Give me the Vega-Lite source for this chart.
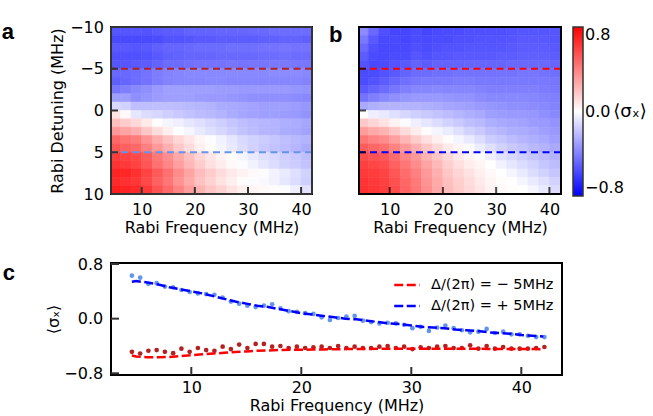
{
"$schema":"https://vega.github.io/schema/vega-lite/v6.json",
"padding":{"left":0,"top":18,"right":0,"bottom":0},
"background":"white",
"config":{
"font":"DejaVu Sans",
"view":{"stroke":"black","strokeWidth":2},
"axis":{"labelFont":"DejaVu Sans","titleFont":"DejaVu Sans","labelFontSize":16,"titleFontSize":16,"titleFontWeight":"normal","labelColor":"black","titleColor":"black","ticks":false,"domain":false,"grid":false,"zindex":1},
"legend":{"labelFont":"DejaVu Sans","titleFont":"DejaVu Sans"},
"title":{"font":"Liberation Sans","fontSize":22,"fontWeight":"bold","anchor":"start","frame":"group","baseline":"alphabetic","offset":0,"color":"black"}
},
"datasets":{
"heatA":[
{"freq":5,"det":-9.5,"sx":-0.53},{"freq":5,"det":-8.5,"sx":-0.57},{"freq":5,"det":-7.5,"sx":-0.52},{"freq":5,"det":-6.5,"sx":-0.55},{"freq":5,"det":-5.5,"sx":-0.53},{"freq":5,"det":-4.5,"sx":-0.47},{"freq":5,"det":-3.5,"sx":-0.5},{"freq":5,"det":-2.5,"sx":-0.43},{"freq":5,"det":-1.5,"sx":-0.3},{"freq":5,"det":-0.5,"sx":-0.12},{"freq":5,"det":0.5,"sx":0.08},{"freq":5,"det":1.5,"sx":0.2},{"freq":5,"det":2.5,"sx":0.32},{"freq":5,"det":3.5,"sx":0.48},{"freq":5,"det":4.5,"sx":0.53},{"freq":5,"det":5.5,"sx":0.61},{"freq":5,"det":6.5,"sx":0.64},{"freq":5,"det":7.5,"sx":0.69},{"freq":5,"det":8.5,"sx":0.67},{"freq":5,"det":9.5,"sx":0.71},
{"freq":7,"det":-9.5,"sx":-0.53},{"freq":7,"det":-8.5,"sx":-0.57},{"freq":7,"det":-7.5,"sx":-0.52},{"freq":7,"det":-6.5,"sx":-0.55},{"freq":7,"det":-5.5,"sx":-0.53},{"freq":7,"det":-4.5,"sx":-0.47},{"freq":7,"det":-3.5,"sx":-0.48},{"freq":7,"det":-2.5,"sx":-0.4},{"freq":7,"det":-1.5,"sx":-0.3},{"freq":7,"det":-0.5,"sx":-0.14},{"freq":7,"det":0.5,"sx":0.02},{"freq":7,"det":1.5,"sx":0.16},{"freq":7,"det":2.5,"sx":0.29},{"freq":7,"det":3.5,"sx":0.44},{"freq":7,"det":4.5,"sx":0.5},{"freq":7,"det":5.5,"sx":0.59},{"freq":7,"det":6.5,"sx":0.62},{"freq":7,"det":7.5,"sx":0.68},{"freq":7,"det":8.5,"sx":0.65},{"freq":7,"det":9.5,"sx":0.69},
{"freq":9,"det":-9.5,"sx":-0.53},{"freq":9,"det":-8.5,"sx":-0.57},{"freq":9,"det":-7.5,"sx":-0.53},{"freq":9,"det":-6.5,"sx":-0.55},{"freq":9,"det":-5.5,"sx":-0.52},{"freq":9,"det":-4.5,"sx":-0.46},{"freq":9,"det":-3.5,"sx":-0.46},{"freq":9,"det":-2.5,"sx":-0.37},{"freq":9,"det":-1.5,"sx":-0.35},{"freq":9,"det":-0.5,"sx":-0.2},{"freq":9,"det":0.5,"sx":-0.08},{"freq":9,"det":1.5,"sx":0.12},{"freq":9,"det":2.5,"sx":0.25},{"freq":9,"det":3.5,"sx":0.41},{"freq":9,"det":4.5,"sx":0.47},{"freq":9,"det":5.5,"sx":0.57},{"freq":9,"det":6.5,"sx":0.59},{"freq":9,"det":7.5,"sx":0.65},{"freq":9,"det":8.5,"sx":0.63},{"freq":9,"det":9.5,"sx":0.67},
{"freq":11,"det":-9.5,"sx":-0.54},{"freq":11,"det":-8.5,"sx":-0.57},{"freq":11,"det":-7.5,"sx":-0.52},{"freq":11,"det":-6.5,"sx":-0.54},{"freq":11,"det":-5.5,"sx":-0.51},{"freq":11,"det":-4.5,"sx":-0.44},{"freq":11,"det":-3.5,"sx":-0.44},{"freq":11,"det":-2.5,"sx":-0.35},{"freq":11,"det":-1.5,"sx":-0.33},{"freq":11,"det":-0.5,"sx":-0.2},{"freq":11,"det":0.5,"sx":-0.11},{"freq":11,"det":1.5,"sx":0.07},{"freq":11,"det":2.5,"sx":0.18},{"freq":11,"det":3.5,"sx":0.34},{"freq":11,"det":4.5,"sx":0.4},{"freq":11,"det":5.5,"sx":0.51},{"freq":11,"det":6.5,"sx":0.53},{"freq":11,"det":7.5,"sx":0.59},{"freq":11,"det":8.5,"sx":0.57},{"freq":11,"det":9.5,"sx":0.62},
{"freq":13,"det":-9.5,"sx":-0.52},{"freq":13,"det":-8.5,"sx":-0.56},{"freq":13,"det":-7.5,"sx":-0.5},{"freq":13,"det":-6.5,"sx":-0.52},{"freq":13,"det":-5.5,"sx":-0.49},{"freq":13,"det":-4.5,"sx":-0.41},{"freq":13,"det":-3.5,"sx":-0.41},{"freq":13,"det":-2.5,"sx":-0.32},{"freq":13,"det":-1.5,"sx":-0.31},{"freq":13,"det":-0.5,"sx":-0.2},{"freq":13,"det":0.5,"sx":-0.13},{"freq":13,"det":1.5,"sx":0.01},{"freq":13,"det":2.5,"sx":0.11},{"freq":13,"det":3.5,"sx":0.26},{"freq":13,"det":4.5,"sx":0.32},{"freq":13,"det":5.5,"sx":0.42},{"freq":13,"det":6.5,"sx":0.45},{"freq":13,"det":7.5,"sx":0.52},{"freq":13,"det":8.5,"sx":0.5},{"freq":13,"det":9.5,"sx":0.54},
{"freq":15,"det":-9.5,"sx":-0.51},{"freq":15,"det":-8.5,"sx":-0.54},{"freq":15,"det":-7.5,"sx":-0.48},{"freq":15,"det":-6.5,"sx":-0.5},{"freq":15,"det":-5.5,"sx":-0.46},{"freq":15,"det":-4.5,"sx":-0.39},{"freq":15,"det":-3.5,"sx":-0.39},{"freq":15,"det":-2.5,"sx":-0.3},{"freq":15,"det":-1.5,"sx":-0.3},{"freq":15,"det":-0.5,"sx":-0.2},{"freq":15,"det":0.5,"sx":-0.15},{"freq":15,"det":1.5,"sx":-0.03},{"freq":15,"det":2.5,"sx":0.05},{"freq":15,"det":3.5,"sx":0.19},{"freq":15,"det":4.5,"sx":0.25},{"freq":15,"det":5.5,"sx":0.35},{"freq":15,"det":6.5,"sx":0.38},{"freq":15,"det":7.5,"sx":0.45},{"freq":15,"det":8.5,"sx":0.43},{"freq":15,"det":9.5,"sx":0.47},
{"freq":17,"det":-9.5,"sx":-0.51},{"freq":17,"det":-8.5,"sx":-0.54},{"freq":17,"det":-7.5,"sx":-0.48},{"freq":17,"det":-6.5,"sx":-0.49},{"freq":17,"det":-5.5,"sx":-0.46},{"freq":17,"det":-4.5,"sx":-0.38},{"freq":17,"det":-3.5,"sx":-0.38},{"freq":17,"det":-2.5,"sx":-0.3},{"freq":17,"det":-1.5,"sx":-0.3},{"freq":17,"det":-0.5,"sx":-0.21},{"freq":17,"det":0.5,"sx":-0.17},{"freq":17,"det":1.5,"sx":-0.05},{"freq":17,"det":2.5,"sx":0.0},{"freq":17,"det":3.5,"sx":0.13},{"freq":17,"det":4.5,"sx":0.17},{"freq":17,"det":5.5,"sx":0.27},{"freq":17,"det":6.5,"sx":0.3},{"freq":17,"det":7.5,"sx":0.36},{"freq":17,"det":8.5,"sx":0.34},{"freq":17,"det":9.5,"sx":0.39},
{"freq":19,"det":-9.5,"sx":-0.49},{"freq":19,"det":-8.5,"sx":-0.53},{"freq":19,"det":-7.5,"sx":-0.47},{"freq":19,"det":-6.5,"sx":-0.48},{"freq":19,"det":-5.5,"sx":-0.45},{"freq":19,"det":-4.5,"sx":-0.37},{"freq":19,"det":-3.5,"sx":-0.38},{"freq":19,"det":-2.5,"sx":-0.3},{"freq":19,"det":-1.5,"sx":-0.3},{"freq":19,"det":-0.5,"sx":-0.22},{"freq":19,"det":0.5,"sx":-0.19},{"freq":19,"det":1.5,"sx":-0.08},{"freq":19,"det":2.5,"sx":-0.03},{"freq":19,"det":3.5,"sx":0.08},{"freq":19,"det":4.5,"sx":0.11},{"freq":19,"det":5.5,"sx":0.2},{"freq":19,"det":6.5,"sx":0.23},{"freq":19,"det":7.5,"sx":0.29},{"freq":19,"det":8.5,"sx":0.27},{"freq":19,"det":9.5,"sx":0.31},
{"freq":21,"det":-9.5,"sx":-0.49},{"freq":21,"det":-8.5,"sx":-0.52},{"freq":21,"det":-7.5,"sx":-0.46},{"freq":21,"det":-6.5,"sx":-0.48},{"freq":21,"det":-5.5,"sx":-0.44},{"freq":21,"det":-4.5,"sx":-0.37},{"freq":21,"det":-3.5,"sx":-0.38},{"freq":21,"det":-2.5,"sx":-0.3},{"freq":21,"det":-1.5,"sx":-0.31},{"freq":21,"det":-0.5,"sx":-0.23},{"freq":21,"det":0.5,"sx":-0.21},{"freq":21,"det":1.5,"sx":-0.1},{"freq":21,"det":2.5,"sx":-0.07},{"freq":21,"det":3.5,"sx":0.03},{"freq":21,"det":4.5,"sx":0.05},{"freq":21,"det":5.5,"sx":0.13},{"freq":21,"det":6.5,"sx":0.16},{"freq":21,"det":7.5,"sx":0.21},{"freq":21,"det":8.5,"sx":0.19},{"freq":21,"det":9.5,"sx":0.24},
{"freq":23,"det":-9.5,"sx":-0.49},{"freq":23,"det":-8.5,"sx":-0.52},{"freq":23,"det":-7.5,"sx":-0.46},{"freq":23,"det":-6.5,"sx":-0.48},{"freq":23,"det":-5.5,"sx":-0.44},{"freq":23,"det":-4.5,"sx":-0.37},{"freq":23,"det":-3.5,"sx":-0.37},{"freq":23,"det":-2.5,"sx":-0.3},{"freq":23,"det":-1.5,"sx":-0.32},{"freq":23,"det":-0.5,"sx":-0.24},{"freq":23,"det":0.5,"sx":-0.22},{"freq":23,"det":1.5,"sx":-0.13},{"freq":23,"det":2.5,"sx":-0.1},{"freq":23,"det":3.5,"sx":-0.01},{"freq":23,"det":4.5,"sx":0.01},{"freq":23,"det":5.5,"sx":0.08},{"freq":23,"det":6.5,"sx":0.1},{"freq":23,"det":7.5,"sx":0.16},{"freq":23,"det":8.5,"sx":0.14},{"freq":23,"det":9.5,"sx":0.18},
{"freq":25,"det":-9.5,"sx":-0.48},{"freq":25,"det":-8.5,"sx":-0.51},{"freq":25,"det":-7.5,"sx":-0.46},{"freq":25,"det":-6.5,"sx":-0.47},{"freq":25,"det":-5.5,"sx":-0.44},{"freq":25,"det":-4.5,"sx":-0.37},{"freq":25,"det":-3.5,"sx":-0.37},{"freq":25,"det":-2.5,"sx":-0.31},{"freq":25,"det":-1.5,"sx":-0.32},{"freq":25,"det":-0.5,"sx":-0.26},{"freq":25,"det":0.5,"sx":-0.24},{"freq":25,"det":1.5,"sx":-0.15},{"freq":25,"det":2.5,"sx":-0.13},{"freq":25,"det":3.5,"sx":-0.04},{"freq":25,"det":4.5,"sx":-0.03},{"freq":25,"det":5.5,"sx":0.04},{"freq":25,"det":6.5,"sx":0.06},{"freq":25,"det":7.5,"sx":0.11},{"freq":25,"det":8.5,"sx":0.09},{"freq":25,"det":9.5,"sx":0.14},
{"freq":27,"det":-9.5,"sx":-0.48},{"freq":27,"det":-8.5,"sx":-0.51},{"freq":27,"det":-7.5,"sx":-0.45},{"freq":27,"det":-6.5,"sx":-0.47},{"freq":27,"det":-5.5,"sx":-0.43},{"freq":27,"det":-4.5,"sx":-0.37},{"freq":27,"det":-3.5,"sx":-0.38},{"freq":27,"det":-2.5,"sx":-0.31},{"freq":27,"det":-1.5,"sx":-0.33},{"freq":27,"det":-0.5,"sx":-0.27},{"freq":27,"det":0.5,"sx":-0.26},{"freq":27,"det":1.5,"sx":-0.18},{"freq":27,"det":2.5,"sx":-0.16},{"freq":27,"det":3.5,"sx":-0.08},{"freq":27,"det":4.5,"sx":-0.07},{"freq":27,"det":5.5,"sx":0.01},{"freq":27,"det":6.5,"sx":0.02},{"freq":27,"det":7.5,"sx":0.07},{"freq":27,"det":8.5,"sx":0.05},{"freq":27,"det":9.5,"sx":0.09},
{"freq":29,"det":-9.5,"sx":-0.48},{"freq":29,"det":-8.5,"sx":-0.51},{"freq":29,"det":-7.5,"sx":-0.45},{"freq":29,"det":-6.5,"sx":-0.47},{"freq":29,"det":-5.5,"sx":-0.44},{"freq":29,"det":-4.5,"sx":-0.37},{"freq":29,"det":-3.5,"sx":-0.38},{"freq":29,"det":-2.5,"sx":-0.32},{"freq":29,"det":-1.5,"sx":-0.34},{"freq":29,"det":-0.5,"sx":-0.28},{"freq":29,"det":0.5,"sx":-0.28},{"freq":29,"det":1.5,"sx":-0.2},{"freq":29,"det":2.5,"sx":-0.19},{"freq":29,"det":3.5,"sx":-0.12},{"freq":29,"det":4.5,"sx":-0.11},{"freq":29,"det":5.5,"sx":-0.03},{"freq":29,"det":6.5,"sx":-0.01},{"freq":29,"det":7.5,"sx":0.04},{"freq":29,"det":8.5,"sx":0.01},{"freq":29,"det":9.5,"sx":0.05},
{"freq":31,"det":-9.5,"sx":-0.47},{"freq":31,"det":-8.5,"sx":-0.51},{"freq":31,"det":-7.5,"sx":-0.45},{"freq":31,"det":-6.5,"sx":-0.47},{"freq":31,"det":-5.5,"sx":-0.43},{"freq":31,"det":-4.5,"sx":-0.37},{"freq":31,"det":-3.5,"sx":-0.38},{"freq":31,"det":-2.5,"sx":-0.32},{"freq":31,"det":-1.5,"sx":-0.35},{"freq":31,"det":-0.5,"sx":-0.29},{"freq":31,"det":0.5,"sx":-0.29},{"freq":31,"det":1.5,"sx":-0.22},{"freq":31,"det":2.5,"sx":-0.21},{"freq":31,"det":3.5,"sx":-0.14},{"freq":31,"det":4.5,"sx":-0.14},{"freq":31,"det":5.5,"sx":-0.07},{"freq":31,"det":6.5,"sx":-0.04},{"freq":31,"det":7.5,"sx":0.02},{"freq":31,"det":8.5,"sx":-0.01},{"freq":31,"det":9.5,"sx":0.03},
{"freq":33,"det":-9.5,"sx":-0.47},{"freq":33,"det":-8.5,"sx":-0.5},{"freq":33,"det":-7.5,"sx":-0.44},{"freq":33,"det":-6.5,"sx":-0.46},{"freq":33,"det":-5.5,"sx":-0.43},{"freq":33,"det":-4.5,"sx":-0.37},{"freq":33,"det":-3.5,"sx":-0.38},{"freq":33,"det":-2.5,"sx":-0.32},{"freq":33,"det":-1.5,"sx":-0.35},{"freq":33,"det":-0.5,"sx":-0.3},{"freq":33,"det":0.5,"sx":-0.3},{"freq":33,"det":1.5,"sx":-0.23},{"freq":33,"det":2.5,"sx":-0.23},{"freq":33,"det":3.5,"sx":-0.16},{"freq":33,"det":4.5,"sx":-0.17},{"freq":33,"det":5.5,"sx":-0.1},{"freq":33,"det":6.5,"sx":-0.08},{"freq":33,"det":7.5,"sx":-0.01},{"freq":33,"det":8.5,"sx":-0.02},{"freq":33,"det":9.5,"sx":0.02},
{"freq":35,"det":-9.5,"sx":-0.46},{"freq":35,"det":-8.5,"sx":-0.5},{"freq":35,"det":-7.5,"sx":-0.44},{"freq":35,"det":-6.5,"sx":-0.46},{"freq":35,"det":-5.5,"sx":-0.42},{"freq":35,"det":-4.5,"sx":-0.36},{"freq":35,"det":-3.5,"sx":-0.38},{"freq":35,"det":-2.5,"sx":-0.32},{"freq":35,"det":-1.5,"sx":-0.35},{"freq":35,"det":-0.5,"sx":-0.3},{"freq":35,"det":0.5,"sx":-0.3},{"freq":35,"det":1.5,"sx":-0.24},{"freq":35,"det":2.5,"sx":-0.24},{"freq":35,"det":3.5,"sx":-0.18},{"freq":35,"det":4.5,"sx":-0.19},{"freq":35,"det":5.5,"sx":-0.12},{"freq":35,"det":6.5,"sx":-0.11},{"freq":35,"det":7.5,"sx":-0.04},{"freq":35,"det":8.5,"sx":-0.04},{"freq":35,"det":9.5,"sx":0.01},
{"freq":37,"det":-9.5,"sx":-0.46},{"freq":37,"det":-8.5,"sx":-0.49},{"freq":37,"det":-7.5,"sx":-0.43},{"freq":37,"det":-6.5,"sx":-0.45},{"freq":37,"det":-5.5,"sx":-0.42},{"freq":37,"det":-4.5,"sx":-0.36},{"freq":37,"det":-3.5,"sx":-0.38},{"freq":37,"det":-2.5,"sx":-0.32},{"freq":37,"det":-1.5,"sx":-0.35},{"freq":37,"det":-0.5,"sx":-0.3},{"freq":37,"det":0.5,"sx":-0.31},{"freq":37,"det":1.5,"sx":-0.25},{"freq":37,"det":2.5,"sx":-0.26},{"freq":37,"det":3.5,"sx":-0.2},{"freq":37,"det":4.5,"sx":-0.21},{"freq":37,"det":5.5,"sx":-0.15},{"freq":37,"det":6.5,"sx":-0.14},{"freq":37,"det":7.5,"sx":-0.07},{"freq":37,"det":8.5,"sx":-0.08},{"freq":37,"det":9.5,"sx":-0.01},
{"freq":39,"det":-9.5,"sx":-0.46},{"freq":39,"det":-8.5,"sx":-0.49},{"freq":39,"det":-7.5,"sx":-0.44},{"freq":39,"det":-6.5,"sx":-0.46},{"freq":39,"det":-5.5,"sx":-0.43},{"freq":39,"det":-4.5,"sx":-0.36},{"freq":39,"det":-3.5,"sx":-0.38},{"freq":39,"det":-2.5,"sx":-0.33},{"freq":39,"det":-1.5,"sx":-0.36},{"freq":39,"det":-0.5,"sx":-0.31},{"freq":39,"det":0.5,"sx":-0.32},{"freq":39,"det":1.5,"sx":-0.26},{"freq":39,"det":2.5,"sx":-0.27},{"freq":39,"det":3.5,"sx":-0.22},{"freq":39,"det":4.5,"sx":-0.23},{"freq":39,"det":5.5,"sx":-0.17},{"freq":39,"det":6.5,"sx":-0.16},{"freq":39,"det":7.5,"sx":-0.1},{"freq":39,"det":8.5,"sx":-0.11},{"freq":39,"det":9.5,"sx":-0.05},
{"freq":41,"det":-9.5,"sx":-0.46},{"freq":41,"det":-8.5,"sx":-0.5},{"freq":41,"det":-7.5,"sx":-0.44},{"freq":41,"det":-6.5,"sx":-0.46},{"freq":41,"det":-5.5,"sx":-0.43},{"freq":41,"det":-4.5,"sx":-0.37},{"freq":41,"det":-3.5,"sx":-0.39},{"freq":41,"det":-2.5,"sx":-0.34},{"freq":41,"det":-1.5,"sx":-0.37},{"freq":41,"det":-0.5,"sx":-0.33},{"freq":41,"det":0.5,"sx":-0.34},{"freq":41,"det":1.5,"sx":-0.28},{"freq":41,"det":2.5,"sx":-0.29},{"freq":41,"det":3.5,"sx":-0.24},{"freq":41,"det":4.5,"sx":-0.26},{"freq":41,"det":5.5,"sx":-0.2},{"freq":41,"det":6.5,"sx":-0.19},{"freq":41,"det":7.5,"sx":-0.14},{"freq":41,"det":8.5,"sx":-0.15},{"freq":41,"det":9.5,"sx":-0.09}
],
"heatB":[
{"freq":5,"det":-9.5,"sx":-0.36},{"freq":5,"det":-8.5,"sx":-0.42},{"freq":5,"det":-7.5,"sx":-0.47},{"freq":5,"det":-6.5,"sx":-0.51},{"freq":5,"det":-5.5,"sx":-0.54},{"freq":5,"det":-4.5,"sx":-0.56},{"freq":5,"det":-3.5,"sx":-0.56},{"freq":5,"det":-2.5,"sx":-0.52},{"freq":5,"det":-1.5,"sx":-0.44},{"freq":5,"det":-0.5,"sx":-0.27},{"freq":5,"det":0.5,"sx":0.0},{"freq":5,"det":1.5,"sx":0.17},{"freq":5,"det":2.5,"sx":0.31},{"freq":5,"det":3.5,"sx":0.43},{"freq":5,"det":4.5,"sx":0.51},{"freq":5,"det":5.5,"sx":0.56},{"freq":5,"det":6.5,"sx":0.6},{"freq":5,"det":7.5,"sx":0.62},{"freq":5,"det":8.5,"sx":0.64},{"freq":5,"det":9.5,"sx":0.65},
{"freq":7,"det":-9.5,"sx":-0.47},{"freq":7,"det":-8.5,"sx":-0.52},{"freq":7,"det":-7.5,"sx":-0.55},{"freq":7,"det":-6.5,"sx":-0.56},{"freq":7,"det":-5.5,"sx":-0.57},{"freq":7,"det":-4.5,"sx":-0.56},{"freq":7,"det":-3.5,"sx":-0.54},{"freq":7,"det":-2.5,"sx":-0.49},{"freq":7,"det":-1.5,"sx":-0.4},{"freq":7,"det":-0.5,"sx":-0.25},{"freq":7,"det":0.5,"sx":-0.05},{"freq":7,"det":1.5,"sx":0.13},{"freq":7,"det":2.5,"sx":0.27},{"freq":7,"det":3.5,"sx":0.39},{"freq":7,"det":4.5,"sx":0.48},{"freq":7,"det":5.5,"sx":0.54},{"freq":7,"det":6.5,"sx":0.58},{"freq":7,"det":7.5,"sx":0.61},{"freq":7,"det":8.5,"sx":0.62},{"freq":7,"det":9.5,"sx":0.63},
{"freq":9,"det":-9.5,"sx":-0.55},{"freq":9,"det":-8.5,"sx":-0.57},{"freq":9,"det":-7.5,"sx":-0.57},{"freq":9,"det":-6.5,"sx":-0.57},{"freq":9,"det":-5.5,"sx":-0.56},{"freq":9,"det":-4.5,"sx":-0.54},{"freq":9,"det":-3.5,"sx":-0.51},{"freq":9,"det":-2.5,"sx":-0.46},{"freq":9,"det":-1.5,"sx":-0.37},{"freq":9,"det":-0.5,"sx":-0.24},{"freq":9,"det":0.5,"sx":-0.07},{"freq":9,"det":1.5,"sx":0.09},{"freq":9,"det":2.5,"sx":0.24},{"freq":9,"det":3.5,"sx":0.36},{"freq":9,"det":4.5,"sx":0.45},{"freq":9,"det":5.5,"sx":0.52},{"freq":9,"det":6.5,"sx":0.56},{"freq":9,"det":7.5,"sx":0.59},{"freq":9,"det":8.5,"sx":0.6},{"freq":9,"det":9.5,"sx":0.61},
{"freq":11,"det":-9.5,"sx":-0.58},{"freq":11,"det":-8.5,"sx":-0.57},{"freq":11,"det":-7.5,"sx":-0.57},{"freq":11,"det":-6.5,"sx":-0.56},{"freq":11,"det":-5.5,"sx":-0.54},{"freq":11,"det":-4.5,"sx":-0.52},{"freq":11,"det":-3.5,"sx":-0.48},{"freq":11,"det":-2.5,"sx":-0.43},{"freq":11,"det":-1.5,"sx":-0.35},{"freq":11,"det":-0.5,"sx":-0.24},{"freq":11,"det":0.5,"sx":-0.1},{"freq":11,"det":1.5,"sx":0.04},{"freq":11,"det":2.5,"sx":0.18},{"freq":11,"det":3.5,"sx":0.3},{"freq":11,"det":4.5,"sx":0.39},{"freq":11,"det":5.5,"sx":0.46},{"freq":11,"det":6.5,"sx":0.5},{"freq":11,"det":7.5,"sx":0.53},{"freq":11,"det":8.5,"sx":0.55},{"freq":11,"det":9.5,"sx":0.56},
{"freq":13,"det":-9.5,"sx":-0.58},{"freq":13,"det":-8.5,"sx":-0.58},{"freq":13,"det":-7.5,"sx":-0.57},{"freq":13,"det":-6.5,"sx":-0.56},{"freq":13,"det":-5.5,"sx":-0.52},{"freq":13,"det":-4.5,"sx":-0.49},{"freq":13,"det":-3.5,"sx":-0.45},{"freq":13,"det":-2.5,"sx":-0.4},{"freq":13,"det":-1.5,"sx":-0.33},{"freq":13,"det":-0.5,"sx":-0.24},{"freq":13,"det":0.5,"sx":-0.13},{"freq":13,"det":1.5,"sx":-0.01},{"freq":13,"det":2.5,"sx":0.11},{"freq":13,"det":3.5,"sx":0.23},{"freq":13,"det":4.5,"sx":0.32},{"freq":13,"det":5.5,"sx":0.38},{"freq":13,"det":6.5,"sx":0.43},{"freq":13,"det":7.5,"sx":0.46},{"freq":13,"det":8.5,"sx":0.48},{"freq":13,"det":9.5,"sx":0.49},
{"freq":15,"det":-9.5,"sx":-0.56},{"freq":15,"det":-8.5,"sx":-0.56},{"freq":15,"det":-7.5,"sx":-0.55},{"freq":15,"det":-6.5,"sx":-0.53},{"freq":15,"det":-5.5,"sx":-0.49},{"freq":15,"det":-4.5,"sx":-0.46},{"freq":15,"det":-3.5,"sx":-0.43},{"freq":15,"det":-2.5,"sx":-0.38},{"freq":15,"det":-1.5,"sx":-0.32},{"freq":15,"det":-0.5,"sx":-0.24},{"freq":15,"det":0.5,"sx":-0.15},{"freq":15,"det":1.5,"sx":-0.05},{"freq":15,"det":2.5,"sx":0.06},{"freq":15,"det":3.5,"sx":0.16},{"freq":15,"det":4.5,"sx":0.25},{"freq":15,"det":5.5,"sx":0.32},{"freq":15,"det":6.5,"sx":0.36},{"freq":15,"det":7.5,"sx":0.4},{"freq":15,"det":8.5,"sx":0.42},{"freq":15,"det":9.5,"sx":0.43},
{"freq":17,"det":-9.5,"sx":-0.58},{"freq":17,"det":-8.5,"sx":-0.57},{"freq":17,"det":-7.5,"sx":-0.56},{"freq":17,"det":-6.5,"sx":-0.55},{"freq":17,"det":-5.5,"sx":-0.51},{"freq":17,"det":-4.5,"sx":-0.46},{"freq":17,"det":-3.5,"sx":-0.42},{"freq":17,"det":-2.5,"sx":-0.38},{"freq":17,"det":-1.5,"sx":-0.32},{"freq":17,"det":-0.5,"sx":-0.25},{"freq":17,"det":0.5,"sx":-0.17},{"freq":17,"det":1.5,"sx":-0.08},{"freq":17,"det":2.5,"sx":0.01},{"freq":17,"det":3.5,"sx":0.1},{"freq":17,"det":4.5,"sx":0.18},{"freq":17,"det":5.5,"sx":0.24},{"freq":17,"det":6.5,"sx":0.29},{"freq":17,"det":7.5,"sx":0.32},{"freq":17,"det":8.5,"sx":0.34},{"freq":17,"det":9.5,"sx":0.35},
{"freq":19,"det":-9.5,"sx":-0.57},{"freq":19,"det":-8.5,"sx":-0.56},{"freq":19,"det":-7.5,"sx":-0.55},{"freq":19,"det":-6.5,"sx":-0.53},{"freq":19,"det":-5.5,"sx":-0.49},{"freq":19,"det":-4.5,"sx":-0.45},{"freq":19,"det":-3.5,"sx":-0.42},{"freq":19,"det":-2.5,"sx":-0.37},{"freq":19,"det":-1.5,"sx":-0.32},{"freq":19,"det":-0.5,"sx":-0.26},{"freq":19,"det":0.5,"sx":-0.19},{"freq":19,"det":1.5,"sx":-0.11},{"freq":19,"det":2.5,"sx":-0.03},{"freq":19,"det":3.5,"sx":0.05},{"freq":19,"det":4.5,"sx":0.12},{"freq":19,"det":5.5,"sx":0.18},{"freq":19,"det":6.5,"sx":0.22},{"freq":19,"det":7.5,"sx":0.25},{"freq":19,"det":8.5,"sx":0.27},{"freq":19,"det":9.5,"sx":0.28},
{"freq":21,"det":-9.5,"sx":-0.56},{"freq":21,"det":-8.5,"sx":-0.56},{"freq":21,"det":-7.5,"sx":-0.54},{"freq":21,"det":-6.5,"sx":-0.53},{"freq":21,"det":-5.5,"sx":-0.49},{"freq":21,"det":-4.5,"sx":-0.45},{"freq":21,"det":-3.5,"sx":-0.42},{"freq":21,"det":-2.5,"sx":-0.38},{"freq":21,"det":-1.5,"sx":-0.33},{"freq":21,"det":-0.5,"sx":-0.28},{"freq":21,"det":0.5,"sx":-0.21},{"freq":21,"det":1.5,"sx":-0.14},{"freq":21,"det":2.5,"sx":-0.06},{"freq":21,"det":3.5,"sx":0.01},{"freq":21,"det":4.5,"sx":0.07},{"freq":21,"det":5.5,"sx":0.12},{"freq":21,"det":6.5,"sx":0.15},{"freq":21,"det":7.5,"sx":0.18},{"freq":21,"det":8.5,"sx":0.2},{"freq":21,"det":9.5,"sx":0.21},
{"freq":23,"det":-9.5,"sx":-0.56},{"freq":23,"det":-8.5,"sx":-0.55},{"freq":23,"det":-7.5,"sx":-0.54},{"freq":23,"det":-6.5,"sx":-0.52},{"freq":23,"det":-5.5,"sx":-0.49},{"freq":23,"det":-4.5,"sx":-0.44},{"freq":23,"det":-3.5,"sx":-0.41},{"freq":23,"det":-2.5,"sx":-0.38},{"freq":23,"det":-1.5,"sx":-0.34},{"freq":23,"det":-0.5,"sx":-0.29},{"freq":23,"det":0.5,"sx":-0.23},{"freq":23,"det":1.5,"sx":-0.17},{"freq":23,"det":2.5,"sx":-0.1},{"freq":23,"det":3.5,"sx":-0.03},{"freq":23,"det":4.5,"sx":0.03},{"freq":23,"det":5.5,"sx":0.07},{"freq":23,"det":6.5,"sx":0.1},{"freq":23,"det":7.5,"sx":0.13},{"freq":23,"det":8.5,"sx":0.15},{"freq":23,"det":9.5,"sx":0.16},
{"freq":25,"det":-9.5,"sx":-0.55},{"freq":25,"det":-8.5,"sx":-0.55},{"freq":25,"det":-7.5,"sx":-0.53},{"freq":25,"det":-6.5,"sx":-0.52},{"freq":25,"det":-5.5,"sx":-0.48},{"freq":25,"det":-4.5,"sx":-0.44},{"freq":25,"det":-3.5,"sx":-0.41},{"freq":25,"det":-2.5,"sx":-0.38},{"freq":25,"det":-1.5,"sx":-0.34},{"freq":25,"det":-0.5,"sx":-0.3},{"freq":25,"det":0.5,"sx":-0.25},{"freq":25,"det":1.5,"sx":-0.2},{"freq":25,"det":2.5,"sx":-0.14},{"freq":25,"det":3.5,"sx":-0.07},{"freq":25,"det":4.5,"sx":-0.01},{"freq":25,"det":5.5,"sx":0.03},{"freq":25,"det":6.5,"sx":0.06},{"freq":25,"det":7.5,"sx":0.09},{"freq":25,"det":8.5,"sx":0.11},{"freq":25,"det":9.5,"sx":0.12},
{"freq":27,"det":-9.5,"sx":-0.55},{"freq":27,"det":-8.5,"sx":-0.54},{"freq":27,"det":-7.5,"sx":-0.53},{"freq":27,"det":-6.5,"sx":-0.52},{"freq":27,"det":-5.5,"sx":-0.48},{"freq":27,"det":-4.5,"sx":-0.44},{"freq":27,"det":-3.5,"sx":-0.42},{"freq":27,"det":-2.5,"sx":-0.39},{"freq":27,"det":-1.5,"sx":-0.36},{"freq":27,"det":-0.5,"sx":-0.32},{"freq":27,"det":0.5,"sx":-0.27},{"freq":27,"det":1.5,"sx":-0.22},{"freq":27,"det":2.5,"sx":-0.17},{"freq":27,"det":3.5,"sx":-0.11},{"freq":27,"det":4.5,"sx":-0.06},{"freq":27,"det":5.5,"sx":0.0},{"freq":27,"det":6.5,"sx":0.03},{"freq":27,"det":7.5,"sx":0.05},{"freq":27,"det":8.5,"sx":0.07},{"freq":27,"det":9.5,"sx":0.08},
{"freq":29,"det":-9.5,"sx":-0.55},{"freq":29,"det":-8.5,"sx":-0.54},{"freq":29,"det":-7.5,"sx":-0.53},{"freq":29,"det":-6.5,"sx":-0.52},{"freq":29,"det":-5.5,"sx":-0.48},{"freq":29,"det":-4.5,"sx":-0.44},{"freq":29,"det":-3.5,"sx":-0.42},{"freq":29,"det":-2.5,"sx":-0.4},{"freq":29,"det":-1.5,"sx":-0.37},{"freq":29,"det":-0.5,"sx":-0.33},{"freq":29,"det":0.5,"sx":-0.3},{"freq":29,"det":1.5,"sx":-0.25},{"freq":29,"det":2.5,"sx":-0.21},{"freq":29,"det":3.5,"sx":-0.16},{"freq":29,"det":4.5,"sx":-0.1},{"freq":29,"det":5.5,"sx":-0.05},{"freq":29,"det":6.5,"sx":0.0},{"freq":29,"det":7.5,"sx":0.02},{"freq":29,"det":8.5,"sx":0.03},{"freq":29,"det":9.5,"sx":0.04},
{"freq":31,"det":-9.5,"sx":-0.55},{"freq":31,"det":-8.5,"sx":-0.54},{"freq":31,"det":-7.5,"sx":-0.53},{"freq":31,"det":-6.5,"sx":-0.51},{"freq":31,"det":-5.5,"sx":-0.48},{"freq":31,"det":-4.5,"sx":-0.44},{"freq":31,"det":-3.5,"sx":-0.42},{"freq":31,"det":-2.5,"sx":-0.4},{"freq":31,"det":-1.5,"sx":-0.37},{"freq":31,"det":-0.5,"sx":-0.34},{"freq":31,"det":0.5,"sx":-0.31},{"freq":31,"det":1.5,"sx":-0.27},{"freq":31,"det":2.5,"sx":-0.23},{"freq":31,"det":3.5,"sx":-0.18},{"freq":31,"det":4.5,"sx":-0.14},{"freq":31,"det":5.5,"sx":-0.09},{"freq":31,"det":6.5,"sx":-0.04},{"freq":31,"det":7.5,"sx":0.0},{"freq":31,"det":8.5,"sx":0.01},{"freq":31,"det":9.5,"sx":0.02},
{"freq":33,"det":-9.5,"sx":-0.54},{"freq":33,"det":-8.5,"sx":-0.53},{"freq":33,"det":-7.5,"sx":-0.52},{"freq":33,"det":-6.5,"sx":-0.51},{"freq":33,"det":-5.5,"sx":-0.47},{"freq":33,"det":-4.5,"sx":-0.44},{"freq":33,"det":-3.5,"sx":-0.42},{"freq":33,"det":-2.5,"sx":-0.4},{"freq":33,"det":-1.5,"sx":-0.37},{"freq":33,"det":-0.5,"sx":-0.35},{"freq":33,"det":0.5,"sx":-0.32},{"freq":33,"det":1.5,"sx":-0.28},{"freq":33,"det":2.5,"sx":-0.25},{"freq":33,"det":3.5,"sx":-0.21},{"freq":33,"det":4.5,"sx":-0.17},{"freq":33,"det":5.5,"sx":-0.12},{"freq":33,"det":6.5,"sx":-0.08},{"freq":33,"det":7.5,"sx":-0.03},{"freq":33,"det":8.5,"sx":0.0},{"freq":33,"det":9.5,"sx":0.01},
{"freq":35,"det":-9.5,"sx":-0.53},{"freq":35,"det":-8.5,"sx":-0.52},{"freq":35,"det":-7.5,"sx":-0.51},{"freq":35,"det":-6.5,"sx":-0.5},{"freq":35,"det":-5.5,"sx":-0.47},{"freq":35,"det":-4.5,"sx":-0.43},{"freq":35,"det":-3.5,"sx":-0.42},{"freq":35,"det":-2.5,"sx":-0.4},{"freq":35,"det":-1.5,"sx":-0.37},{"freq":35,"det":-0.5,"sx":-0.35},{"freq":35,"det":0.5,"sx":-0.32},{"freq":35,"det":1.5,"sx":-0.29},{"freq":35,"det":2.5,"sx":-0.26},{"freq":35,"det":3.5,"sx":-0.23},{"freq":35,"det":4.5,"sx":-0.19},{"freq":35,"det":5.5,"sx":-0.15},{"freq":35,"det":6.5,"sx":-0.11},{"freq":35,"det":7.5,"sx":-0.07},{"freq":35,"det":8.5,"sx":-0.03},{"freq":35,"det":9.5,"sx":0.0},
{"freq":37,"det":-9.5,"sx":-0.53},{"freq":37,"det":-8.5,"sx":-0.52},{"freq":37,"det":-7.5,"sx":-0.51},{"freq":37,"det":-6.5,"sx":-0.5},{"freq":37,"det":-5.5,"sx":-0.47},{"freq":37,"det":-4.5,"sx":-0.43},{"freq":37,"det":-3.5,"sx":-0.42},{"freq":37,"det":-2.5,"sx":-0.4},{"freq":37,"det":-1.5,"sx":-0.38},{"freq":37,"det":-0.5,"sx":-0.36},{"freq":37,"det":0.5,"sx":-0.33},{"freq":37,"det":1.5,"sx":-0.31},{"freq":37,"det":2.5,"sx":-0.28},{"freq":37,"det":3.5,"sx":-0.25},{"freq":37,"det":4.5,"sx":-0.22},{"freq":37,"det":5.5,"sx":-0.18},{"freq":37,"det":6.5,"sx":-0.14},{"freq":37,"det":7.5,"sx":-0.11},{"freq":37,"det":8.5,"sx":-0.07},{"freq":37,"det":9.5,"sx":-0.03},
{"freq":39,"det":-9.5,"sx":-0.53},{"freq":39,"det":-8.5,"sx":-0.52},{"freq":39,"det":-7.5,"sx":-0.51},{"freq":39,"det":-6.5,"sx":-0.5},{"freq":39,"det":-5.5,"sx":-0.47},{"freq":39,"det":-4.5,"sx":-0.44},{"freq":39,"det":-3.5,"sx":-0.42},{"freq":39,"det":-2.5,"sx":-0.41},{"freq":39,"det":-1.5,"sx":-0.39},{"freq":39,"det":-0.5,"sx":-0.37},{"freq":39,"det":0.5,"sx":-0.35},{"freq":39,"det":1.5,"sx":-0.32},{"freq":39,"det":2.5,"sx":-0.3},{"freq":39,"det":3.5,"sx":-0.27},{"freq":39,"det":4.5,"sx":-0.24},{"freq":39,"det":5.5,"sx":-0.21},{"freq":39,"det":6.5,"sx":-0.18},{"freq":39,"det":7.5,"sx":-0.14},{"freq":39,"det":8.5,"sx":-0.1},{"freq":39,"det":9.5,"sx":-0.07},
{"freq":41,"det":-9.5,"sx":-0.53},{"freq":41,"det":-8.5,"sx":-0.53},{"freq":41,"det":-7.5,"sx":-0.52},{"freq":41,"det":-6.5,"sx":-0.51},{"freq":41,"det":-5.5,"sx":-0.48},{"freq":41,"det":-4.5,"sx":-0.45},{"freq":41,"det":-3.5,"sx":-0.43},{"freq":41,"det":-2.5,"sx":-0.42},{"freq":41,"det":-1.5,"sx":-0.4},{"freq":41,"det":-0.5,"sx":-0.39},{"freq":41,"det":0.5,"sx":-0.37},{"freq":41,"det":1.5,"sx":-0.34},{"freq":41,"det":2.5,"sx":-0.32},{"freq":41,"det":3.5,"sx":-0.3},{"freq":41,"det":4.5,"sx":-0.27},{"freq":41,"det":5.5,"sx":-0.24},{"freq":41,"det":6.5,"sx":-0.21},{"freq":41,"det":7.5,"sx":-0.18},{"freq":41,"det":8.5,"sx":-0.14},{"freq":41,"det":9.5,"sx":-0.11}
],
"points":[
{"freq":4.6,"series":"+5 MHz","sx":0.63},{"freq":5.35,"series":"+5 MHz","sx":0.6},{"freq":6.1,"series":"+5 MHz","sx":0.51},{"freq":6.85,"series":"+5 MHz","sx":0.52},{"freq":7.6,"series":"+5 MHz","sx":0.47},{"freq":8.35,"series":"+5 MHz","sx":0.46},{"freq":9.1,"series":"+5 MHz","sx":0.42},{"freq":9.85,"series":"+5 MHz","sx":0.39},{"freq":10.6,"series":"+5 MHz","sx":0.37},{"freq":11.35,"series":"+5 MHz","sx":0.36},{"freq":12.1,"series":"+5 MHz","sx":0.35},{"freq":12.85,"series":"+5 MHz","sx":0.31},{"freq":13.6,"series":"+5 MHz","sx":0.25},{"freq":14.35,"series":"+5 MHz","sx":0.22},{"freq":15.1,"series":"+5 MHz","sx":0.19},{"freq":15.85,"series":"+5 MHz","sx":0.17},{"freq":16.6,"series":"+5 MHz","sx":0.19},{"freq":17.35,"series":"+5 MHz","sx":0.21},{"freq":18.1,"series":"+5 MHz","sx":0.15},{"freq":18.85,"series":"+5 MHz","sx":0.11},{"freq":19.6,"series":"+5 MHz","sx":0.1},{"freq":20.35,"series":"+5 MHz","sx":0.08},{"freq":21.1,"series":"+5 MHz","sx":0.07},{"freq":21.85,"series":"+5 MHz","sx":0.02},{"freq":22.6,"series":"+5 MHz","sx":-0.02},{"freq":23.35,"series":"+5 MHz","sx":0.01},{"freq":24.1,"series":"+5 MHz","sx":0.03},{"freq":24.85,"series":"+5 MHz","sx":0.04},{"freq":25.6,"series":"+5 MHz","sx":-0.03},{"freq":26.35,"series":"+5 MHz","sx":-0.05},{"freq":27.1,"series":"+5 MHz","sx":-0.07},{"freq":27.85,"series":"+5 MHz","sx":-0.06},{"freq":28.6,"series":"+5 MHz","sx":-0.07},{"freq":29.35,"series":"+5 MHz","sx":-0.09},{"freq":30.1,"series":"+5 MHz","sx":-0.14},{"freq":30.85,"series":"+5 MHz","sx":-0.12},{"freq":31.6,"series":"+5 MHz","sx":-0.18},{"freq":32.35,"series":"+5 MHz","sx":-0.13},{"freq":33.1,"series":"+5 MHz","sx":-0.1},{"freq":33.85,"series":"+5 MHz","sx":-0.14},{"freq":34.6,"series":"+5 MHz","sx":-0.17},{"freq":35.35,"series":"+5 MHz","sx":-0.2},{"freq":36.1,"series":"+5 MHz","sx":-0.19},{"freq":36.85,"series":"+5 MHz","sx":-0.15},{"freq":37.6,"series":"+5 MHz","sx":-0.21},{"freq":38.35,"series":"+5 MHz","sx":-0.19},{"freq":39.1,"series":"+5 MHz","sx":-0.23},{"freq":39.85,"series":"+5 MHz","sx":-0.23},{"freq":40.6,"series":"+5 MHz","sx":-0.25},{"freq":41.35,"series":"+5 MHz","sx":-0.27},{"freq":42.1,"series":"+5 MHz","sx":-0.27},
{"freq":4.6,"series":"−5 MHz","sx":-0.485},{"freq":5.35,"series":"−5 MHz","sx":-0.51},{"freq":6.1,"series":"−5 MHz","sx":-0.47},{"freq":6.85,"series":"−5 MHz","sx":-0.46},{"freq":7.6,"series":"−5 MHz","sx":-0.485},{"freq":8.35,"series":"−5 MHz","sx":-0.505},{"freq":9.1,"series":"−5 MHz","sx":-0.44},{"freq":9.85,"series":"−5 MHz","sx":-0.485},{"freq":10.6,"series":"−5 MHz","sx":-0.43},{"freq":11.35,"series":"−5 MHz","sx":-0.46},{"freq":12.1,"series":"−5 MHz","sx":-0.47},{"freq":12.85,"series":"−5 MHz","sx":-0.41},{"freq":13.6,"series":"−5 MHz","sx":-0.445},{"freq":14.35,"series":"−5 MHz","sx":-0.38},{"freq":15.1,"series":"−5 MHz","sx":-0.43},{"freq":15.85,"series":"−5 MHz","sx":-0.37},{"freq":16.6,"series":"−5 MHz","sx":-0.37},{"freq":17.35,"series":"−5 MHz","sx":-0.41},{"freq":18.1,"series":"−5 MHz","sx":-0.4},{"freq":18.85,"series":"−5 MHz","sx":-0.43},{"freq":19.6,"series":"−5 MHz","sx":-0.41},{"freq":20.35,"series":"−5 MHz","sx":-0.43},{"freq":21.1,"series":"−5 MHz","sx":-0.42},{"freq":21.85,"series":"−5 MHz","sx":-0.41},{"freq":22.6,"series":"−5 MHz","sx":-0.43},{"freq":23.35,"series":"−5 MHz","sx":-0.4},{"freq":24.1,"series":"−5 MHz","sx":-0.43},{"freq":24.85,"series":"−5 MHz","sx":-0.41},{"freq":25.6,"series":"−5 MHz","sx":-0.43},{"freq":26.35,"series":"−5 MHz","sx":-0.43},{"freq":27.1,"series":"−5 MHz","sx":-0.41},{"freq":27.85,"series":"−5 MHz","sx":-0.4},{"freq":28.6,"series":"−5 MHz","sx":-0.43},{"freq":29.35,"series":"−5 MHz","sx":-0.41},{"freq":30.1,"series":"−5 MHz","sx":-0.445},{"freq":30.85,"series":"−5 MHz","sx":-0.42},{"freq":31.6,"series":"−5 MHz","sx":-0.43},{"freq":32.35,"series":"−5 MHz","sx":-0.41},{"freq":33.1,"series":"−5 MHz","sx":-0.4},{"freq":33.85,"series":"−5 MHz","sx":-0.43},{"freq":34.6,"series":"−5 MHz","sx":-0.43},{"freq":35.35,"series":"−5 MHz","sx":-0.39},{"freq":36.1,"series":"−5 MHz","sx":-0.44},{"freq":36.85,"series":"−5 MHz","sx":-0.4},{"freq":37.6,"series":"−5 MHz","sx":-0.44},{"freq":38.35,"series":"−5 MHz","sx":-0.415},{"freq":39.1,"series":"−5 MHz","sx":-0.44},{"freq":39.85,"series":"−5 MHz","sx":-0.44},{"freq":40.6,"series":"−5 MHz","sx":-0.44},{"freq":41.35,"series":"−5 MHz","sx":-0.43},{"freq":42.1,"series":"−5 MHz","sx":-0.415}
],
"simulation":[
{"freq":4.6,"series":"Δ/(2π) = + 5MHz","sx":0.54},{"freq":5,"series":"Δ/(2π) = + 5MHz","sx":0.55},{"freq":6,"series":"Δ/(2π) = + 5MHz","sx":0.53},{"freq":7,"series":"Δ/(2π) = + 5MHz","sx":0.5},{"freq":8,"series":"Δ/(2π) = + 5MHz","sx":0.46},{"freq":9,"series":"Δ/(2π) = + 5MHz","sx":0.43},{"freq":10,"series":"Δ/(2π) = + 5MHz","sx":0.4},{"freq":11,"series":"Δ/(2π) = + 5MHz","sx":0.37},{"freq":12,"series":"Δ/(2π) = + 5MHz","sx":0.33},{"freq":13,"series":"Δ/(2π) = + 5MHz","sx":0.29},{"freq":14,"series":"Δ/(2π) = + 5MHz","sx":0.25},{"freq":15,"series":"Δ/(2π) = + 5MHz","sx":0.22},{"freq":16,"series":"Δ/(2π) = + 5MHz","sx":0.19},{"freq":17,"series":"Δ/(2π) = + 5MHz","sx":0.17},{"freq":18,"series":"Δ/(2π) = + 5MHz","sx":0.14},{"freq":19,"series":"Δ/(2π) = + 5MHz","sx":0.11},{"freq":20,"series":"Δ/(2π) = + 5MHz","sx":0.08},{"freq":21,"series":"Δ/(2π) = + 5MHz","sx":0.06},{"freq":22,"series":"Δ/(2π) = + 5MHz","sx":0.04},{"freq":23,"series":"Δ/(2π) = + 5MHz","sx":0.02},{"freq":24,"series":"Δ/(2π) = + 5MHz","sx":0.0},{"freq":25,"series":"Δ/(2π) = + 5MHz","sx":-0.01},{"freq":26,"series":"Δ/(2π) = + 5MHz","sx":-0.03},{"freq":27,"series":"Δ/(2π) = + 5MHz","sx":-0.05},{"freq":28,"series":"Δ/(2π) = + 5MHz","sx":-0.07},{"freq":29,"series":"Δ/(2π) = + 5MHz","sx":-0.08},{"freq":30,"series":"Δ/(2π) = + 5MHz","sx":-0.1},{"freq":31,"series":"Δ/(2π) = + 5MHz","sx":-0.12},{"freq":32,"series":"Δ/(2π) = + 5MHz","sx":-0.13},{"freq":33,"series":"Δ/(2π) = + 5MHz","sx":-0.14},{"freq":34,"series":"Δ/(2π) = + 5MHz","sx":-0.16},{"freq":35,"series":"Δ/(2π) = + 5MHz","sx":-0.17},{"freq":36,"series":"Δ/(2π) = + 5MHz","sx":-0.18},{"freq":37,"series":"Δ/(2π) = + 5MHz","sx":-0.2},{"freq":38,"series":"Δ/(2π) = + 5MHz","sx":-0.21},{"freq":39,"series":"Δ/(2π) = + 5MHz","sx":-0.22},{"freq":40,"series":"Δ/(2π) = + 5MHz","sx":-0.24},{"freq":41,"series":"Δ/(2π) = + 5MHz","sx":-0.25},{"freq":42,"series":"Δ/(2π) = + 5MHz","sx":-0.26},
{"freq":4.6,"series":"Δ/(2π) = − 5MHz","sx":-0.54},{"freq":5,"series":"Δ/(2π) = − 5MHz","sx":-0.555},{"freq":6,"series":"Δ/(2π) = − 5MHz","sx":-0.565},{"freq":7,"series":"Δ/(2π) = − 5MHz","sx":-0.565},{"freq":8,"series":"Δ/(2π) = − 5MHz","sx":-0.56},{"freq":9,"series":"Δ/(2π) = − 5MHz","sx":-0.55},{"freq":10,"series":"Δ/(2π) = − 5MHz","sx":-0.535},{"freq":11,"series":"Δ/(2π) = − 5MHz","sx":-0.52},{"freq":12,"series":"Δ/(2π) = − 5MHz","sx":-0.51},{"freq":13,"series":"Δ/(2π) = − 5MHz","sx":-0.5},{"freq":14,"series":"Δ/(2π) = − 5MHz","sx":-0.49},{"freq":15,"series":"Δ/(2π) = − 5MHz","sx":-0.48},{"freq":16,"series":"Δ/(2π) = − 5MHz","sx":-0.47},{"freq":17,"series":"Δ/(2π) = − 5MHz","sx":-0.465},{"freq":18,"series":"Δ/(2π) = − 5MHz","sx":-0.46},{"freq":19,"series":"Δ/(2π) = − 5MHz","sx":-0.457},{"freq":20,"series":"Δ/(2π) = − 5MHz","sx":-0.455},{"freq":21,"series":"Δ/(2π) = − 5MHz","sx":-0.452},{"freq":22,"series":"Δ/(2π) = − 5MHz","sx":-0.45},{"freq":23,"series":"Δ/(2π) = − 5MHz","sx":-0.448},{"freq":24,"series":"Δ/(2π) = − 5MHz","sx":-0.446},{"freq":25,"series":"Δ/(2π) = − 5MHz","sx":-0.445},{"freq":26,"series":"Δ/(2π) = − 5MHz","sx":-0.443},{"freq":27,"series":"Δ/(2π) = − 5MHz","sx":-0.442},{"freq":28,"series":"Δ/(2π) = − 5MHz","sx":-0.441},{"freq":29,"series":"Δ/(2π) = − 5MHz","sx":-0.44},{"freq":30,"series":"Δ/(2π) = − 5MHz","sx":-0.44},{"freq":31,"series":"Δ/(2π) = − 5MHz","sx":-0.44},{"freq":32,"series":"Δ/(2π) = − 5MHz","sx":-0.44},{"freq":33,"series":"Δ/(2π) = − 5MHz","sx":-0.44},{"freq":34,"series":"Δ/(2π) = − 5MHz","sx":-0.44},{"freq":35,"series":"Δ/(2π) = − 5MHz","sx":-0.44},{"freq":36,"series":"Δ/(2π) = − 5MHz","sx":-0.442},{"freq":37,"series":"Δ/(2π) = − 5MHz","sx":-0.443},{"freq":38,"series":"Δ/(2π) = − 5MHz","sx":-0.444},{"freq":39,"series":"Δ/(2π) = − 5MHz","sx":-0.445},{"freq":40,"series":"Δ/(2π) = − 5MHz","sx":-0.445},{"freq":41,"series":"Δ/(2π) = − 5MHz","sx":-0.446},{"freq":42,"series":"Δ/(2π) = − 5MHz","sx":-0.447}
]
},
"spacing":18,
"resolve":{"scale":{"color":"independent","stroke":"independent"}},
"vconcat":[
{
"hconcat":[
{
"width":201,"height":167,
"title":{"text":"a","dx":-109.3,"dy":28.6},
"layer":[
{"data":{"name":"heatA"},
"transform":[{"bin":{"step":2,"anchor":4},"field":"freq","as":["f0","f1"]},{"bin":{"step":1,"anchor":0},"field":"det","as":["d0","d1"]}],
"mark":{"type":"rect","strokeWidth":0.6,"clip":true},
"encoding":{
"x":{"field":"f0","type":"quantitative","title":"Rabi Frequency (MHz)","scale":{"domain":[4.22,42.05],"nice":false,"zero":false},"axis":{"values":[10,20,30,40],"labelPadding":7.7,"titlePadding":2}},
"x2":{"field":"f1"},
"y":{"field":"d0","type":"quantitative","title":"Rabi Detuning (MHz)","scale":{"domain":[-10,10],"reverse":true,"nice":false,"zero":false},"axis":{"values":[-10,-5,0,5,10],"labelPadding":7.6,"titlePadding":4}},
"y2":{"field":"d1"},
"color":{"field":"sx","type":"quantitative","scale":{"domain":[-0.8,0,0.8],"range":["#0000ff","#ffffff","#ff0000"],"interpolate":"rgb"},"legend":null},
"stroke":{"field":"sx","type":"quantitative","scale":{"domain":[-0.8,0,0.8],"range":["#0000ff","#ffffff","#ff0000"],"interpolate":"rgb"},"legend":null}
}},
{"data":{"values":[{"det":-5}]},"mark":{"type":"rule","color":"#b22222","strokeWidth":2,"strokeDash":[7,4.5]},"encoding":{"y":{"field":"det","type":"quantitative","title":"Rabi Detuning (MHz)"}}},
{"data":{"values":[{"det":5}]},"mark":{"type":"rule","color":"#6495ed","strokeWidth":2,"strokeDash":[7,4.5]},"encoding":{"y":{"field":"det","type":"quantitative","title":"Rabi Detuning (MHz)"}}},
{"data":{"values":[{"det":-10},{"det":10}]},"mark":{"type":"rule","color":"#333333","strokeWidth":2},"encoding":{"y":{"field":"det","type":"quantitative","title":"Rabi Detuning (MHz)"}}},
{"data":{"values":[{"freq":4.22},{"freq":42.05}]},"mark":{"type":"rule","color":"#333333","strokeWidth":2},"encoding":{"x":{"field":"freq","type":"quantitative","title":"Rabi Frequency (MHz)"}}},
{"data":{"values":[{"freq":10},{"freq":20},{"freq":30},{"freq":40}]},"mark":{"type":"rule","color":"#333333","strokeWidth":2},"encoding":{"x":{"field":"freq","type":"quantitative","title":"Rabi Frequency (MHz)"},"y":{"datum":10,"type":"quantitative"},"y2":{"datum":9.16}}},
{"data":{"values":[{"det":-5},{"det":0},{"det":5}]},"mark":{"type":"rule","color":"#333333","strokeWidth":2},"encoding":{"y":{"field":"det","type":"quantitative","title":"Rabi Detuning (MHz)"},"x":{"datum":4.22,"type":"quantitative"},"x2":{"datum":5.54}}}
]
},
{
"width":202,"height":167,
"title":{"text":"b","dx":-30,"dy":25.3},
"layer":[
{"data":{"name":"heatB"},
"transform":[{"bin":{"step":2,"anchor":4},"field":"freq","as":["f0","f1"]},{"bin":{"step":1,"anchor":0},"field":"det","as":["d0","d1"]}],
"mark":{"type":"rect","strokeWidth":0.6,"clip":true},
"encoding":{
"x":{"field":"f0","type":"quantitative","title":"Rabi Frequency (MHz)","scale":{"domain":[4.24,42.18],"nice":false,"zero":false},"axis":{"values":[10,20,30,40],"labelPadding":7.7,"titlePadding":2}},
"x2":{"field":"f1"},
"y":{"field":"d0","type":"quantitative","title":null,"scale":{"domain":[-10,10],"reverse":true,"nice":false,"zero":false},"axis":{"values":[-10,-5,0,5,10],"labels":false,"title":null}},
"y2":{"field":"d1"},
"color":{"field":"sx","type":"quantitative","scale":{"domain":[-0.8,0,0.8],"range":["#0000ff","#ffffff","#ff0000"],"interpolate":"rgb"},
"legend":{"orient":"right","offset":12,"direction":"vertical","gradientLength":169,"gradientThickness":10,"gradientStrokeColor":"#333333","gradientStrokeWidth":1.5,"values":[-0.8,0,0.8],"format":".1f","labelFontSize":16,"labelColor":"black","labelOffset":2,"labelBaseline":"middle","labelOverlap":false,"title":"⟨σₓ⟩","titleOrient":"right","titleAnchor":"middle","titleBaseline":"middle","titleFontSize":18,"titleFontWeight":"normal","titleColor":"black","titlePadding":6,"padding":0,"encode":{"title":{"update":{"angle":{"value":0}}}}}},
"stroke":{"field":"sx","type":"quantitative","scale":{"domain":[-0.8,0,0.8],"range":["#0000ff","#ffffff","#ff0000"],"interpolate":"rgb"},"legend":null}
}},
{"data":{"values":[{"det":-5}]},"mark":{"type":"rule","color":"#ff0000","strokeWidth":2,"strokeDash":[7,4.5]},"encoding":{"y":{"field":"det","type":"quantitative","title":null}}},
{"data":{"values":[{"det":5}]},"mark":{"type":"rule","color":"#0000ff","strokeWidth":2,"strokeDash":[7,4.5]},"encoding":{"y":{"field":"det","type":"quantitative","title":null}}},
{"data":{"values":[{"det":-10},{"det":10}]},"mark":{"type":"rule","stroke":"black","strokeWidth":2},"encoding":{"y":{"field":"det","type":"quantitative","title":null}}},
{"data":{"values":[{"freq":4.24},{"freq":42.18}]},"mark":{"type":"rule","stroke":"black","strokeWidth":2},"encoding":{"x":{"field":"freq","type":"quantitative","title":"Rabi Frequency (MHz)"}}},
{"data":{"values":[{"freq":10},{"freq":20},{"freq":30},{"freq":40}]},"mark":{"type":"tick","color":"black","orient":"vertical","thickness":2,"size":7},"encoding":{"x":{"field":"freq","type":"quantitative","title":"Rabi Frequency (MHz)"},"y":{"datum":9.58,"type":"quantitative"}}},
{"data":{"values":[{"det":-5},{"det":0},{"det":5}]},"mark":{"type":"tick","color":"black","orient":"horizontal","thickness":2,"size":7},"encoding":{"y":{"field":"det","type":"quantitative","title":null},"x":{"datum":4.9,"type":"quantitative"}}}
]
}
],
"spacing":47,
"bounds":"flush",
"resolve":{"scale":{"color":"independent"}}
},
{
"width":451,"height":112,
"title":{"text":"c","dx":-108.3,"dy":33},
"layer":[
{"data":{"name":"points"},"mark":{"type":"circle","size":22,"opacity":1},
"encoding":{
"x":{"field":"freq","type":"quantitative","title":"Rabi Frequency (MHz)","scale":{"domain":[2.7,43.7],"nice":false,"zero":false},"axis":{"values":[10,20,30,40],"labelPadding":4.7,"titlePadding":1.6}},
"y":{"field":"sx","type":"quantitative","title":"⟨σₓ⟩","scale":{"domain":[-0.825,0.815],"nice":false,"zero":false},"axis":{"values":[-0.8,0,0.8],"format":".1f","labelPadding":8.3,"titlePadding":2}},
"color":{"field":"series","type":"nominal","scale":{"domain":["−5 MHz","+5 MHz"],"range":["#b22222","#6495ed"]},"legend":null}
}},
{"data":{"name":"simulation"},"mark":{"type":"line","strokeWidth":2.5,"strokeDash":[9,3.5]},
"encoding":{
"x":{"field":"freq","type":"quantitative","title":"Rabi Frequency (MHz)"},
"y":{"field":"sx","type":"quantitative","title":"⟨σₓ⟩"},
"stroke":{"field":"series","type":"nominal","scale":{"domain":["Δ/(2π) = − 5MHz","Δ/(2π) = + 5MHz"],"range":["#ff0000","#0000ff"]},
"legend":{"orient":"top-right","offset":8,"title":null,"symbolType":"stroke","symbolStrokeWidth":2.5,"symbolDash":[9,3.5],"symbolSize":650,"labelFontSize":14.5,"labelColor":"black","labelOffset":10,"rowPadding":-5.5,"padding":0}}
}},
{"data":{"values":[{"freq":10},{"freq":20},{"freq":30},{"freq":40}]},"mark":{"type":"rule","color":"#333333","strokeWidth":2},"encoding":{"x":{"field":"freq","type":"quantitative","title":"Rabi Frequency (MHz)"},"y":{"datum":-0.825,"type":"quantitative"},"y2":{"datum":-0.708}}},
{"data":{"values":[{"sx":-0.8},{"sx":0},{"sx":0.8}]},"mark":{"type":"rule","color":"#333333","strokeWidth":2},"encoding":{"y":{"field":"sx","type":"quantitative","title":"⟨σₓ⟩"},"x":{"datum":2.7,"type":"quantitative"},"x2":{"datum":3.43}}}
]
}
]
}
